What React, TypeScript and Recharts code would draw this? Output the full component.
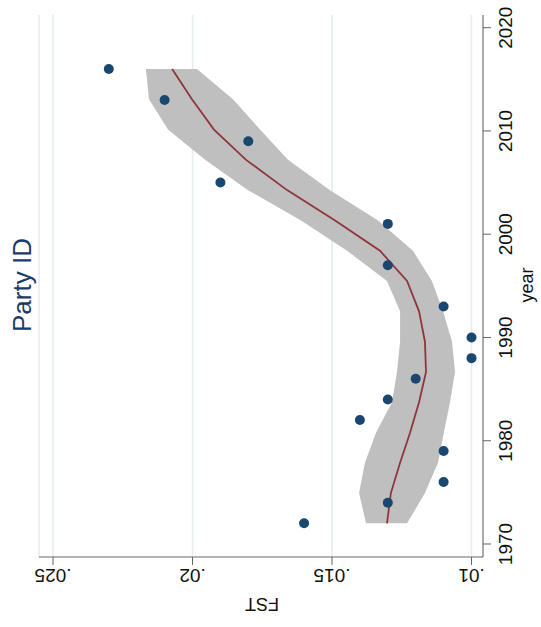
import { Area, CartesianGrid, ComposedChart, Line, Scatter, XAxis, YAxis } from 'recharts';

// scatter: survey years and FST
const pointYears = [1972, 1974, 1976, 1979, 1982, 1984, 1986, 1988, 1990, 1993, 1997, 2001, 2005, 2009, 2013, 2016];
const pointFst = [0.016, 0.013, 0.011, 0.011, 0.014, 0.013, 0.012, 0.010, 0.010, 0.011, 0.013, 0.013, 0.019, 0.018, 0.021, 0.023];

// local polynomial fit, evaluated on its own grid, with CI band
const fitYears = [1972, 1974.93, 1977.87, 1980.8, 1983.73, 1986.67, 1989.6, 1992.53, 1995.47, 1998.4, 2001.33, 2004.27, 2007.2, 2010.13, 2013.07, 2016];
const fitValues = [0.01303, 0.01289, 0.01256, 0.0122, 0.01188, 0.01163, 0.01167, 0.01188, 0.01231, 0.01328, 0.01489, 0.01661, 0.01808, 0.01923, 0.02002, 0.02073];
const fitLow = [0.01231, 0.01167, 0.0112, 0.01099, 0.01077, 0.01059, 0.0107, 0.01102, 0.01142, 0.0121, 0.01335, 0.01507, 0.01658, 0.01758, 0.01855, 0.01984];
const fitHigh = [0.01378, 0.01403, 0.01382, 0.01342, 0.01285, 0.01267, 0.01256, 0.01256, 0.01303, 0.01446, 0.01611, 0.01801, 0.01955, 0.02088, 0.02156, 0.02167];

const yearTicks = [1970, 1980, 1990, 2000, 2010, 2020];
const fstTicks = [0.01, 0.015, 0.02, 0.025];
const fstLabels = ['.01', '.015', '.02', '.025'];

const title = 'Party ID';
const xTitle = 'year';
const yTitle = 'FST';

const points = pointYears.map((year, i) => ({ year, fst: pointFst[i] }));
const fit = fitYears.map((year, i) => ({
  year,
  fit: fitValues[i],
  band: [fitLow[i], fitHigh[i]],
}));

const FONT = '"Liberation Sans", Arial, Helvetica, sans-serif';
const W = 627; // chart is drawn like the original and turned a quarter
const H = 541;

function YearTick({ x, y, payload }: any) {
  return (
    <text x={x} y={y + 21} textAnchor="middle" fontSize={19} fontFamily={FONT} fill="#111">
      {payload.value}
    </text>
  );
}

function FstTick({ x, y, payload }: any) {
  const i = fstTicks.indexOf(payload.value);
  const bx = x - 4;
  return (
    <text
      x={bx}
      y={y}
      transform={`rotate(-90, ${bx}, ${y})`}
      textAnchor="middle"
      fontSize={19}
      fontFamily={FONT}
      fill="#111"
    >
      {i >= 0 ? fstLabels[i] : payload.value}
    </text>
  );
}

export default function App() {
  return (
    <div style={{ position: 'fixed', left: 0, top: 0, width: 541, height: 627, background: '#fff', overflow: 'hidden' }}>
      <div
        style={{
          position: 'absolute',
          left: 0,
          top: 0,
          width: W,
          height: H,
          transformOrigin: '0 0',
          transform: `translate(0px, ${W}px) rotate(-90deg)`,
        }}
      >
        <ComposedChart width={W} height={H} data={fit} margin={{ top: 39, right: 15, bottom: 0, left: 0 }}>
          <CartesianGrid vertical={false} stroke="#e3ebee" strokeWidth={1.5} />
          <XAxis
            type="number"
            dataKey="year"
            domain={[1968.74, 2021.23]}
            allowDataOverflow
            ticks={yearTicks}
            height={58}
            tickSize={8}
            tickMargin={0}
            tick={<YearTick />}
            stroke="#666"
          />
          <YAxis
            type="number"
            domain={[0.009588, 0.025502]}
            allowDataOverflow
            ticks={fstTicks}
            width={70}
            tickSize={8}
            tickMargin={0}
            tick={<FstTick />}
            stroke="#666"
          />
          <Area
            dataKey="band"
            type="linear"
            stroke="none"
            fill="#bfbfbf"
            fillOpacity={1}
            isAnimationActive={false}
          />
          <Scatter
            data={points}
            dataKey="fst"
            fill="#1a476f"
            isAnimationActive={false}
            shape={(p: any) => <circle cx={p.cx} cy={p.cy} r={5} fill="#1a476f" />}
          />
          <Line
            dataKey="fit"
            type="linear"
            stroke="#90353b"
            strokeWidth={1.8}
            dot={false}
            isAnimationActive={false}
          />
        </ComposedChart>
        <svg width={W} height={H} style={{ position: 'absolute', left: 0, top: 0, pointerEvents: 'none' }}>
          <text x={342} y={31} textAnchor="middle" fontSize={26} fontFamily={FONT} fill="#1a3a6b">
            {title}
          </text>
          <text x={342} y={533} textAnchor="middle" fontSize={18} fontFamily={FONT} fill="#111">
            {xTitle}
          </text>
          <text
            x={29}
            y={262}
            transform="rotate(-90, 29, 262)"
            textAnchor="middle"
            fontSize={18}
            fontFamily={FONT}
            fill="#111"
          >
            {yTitle}
          </text>
        </svg>
      </div>
    </div>
  );
}
